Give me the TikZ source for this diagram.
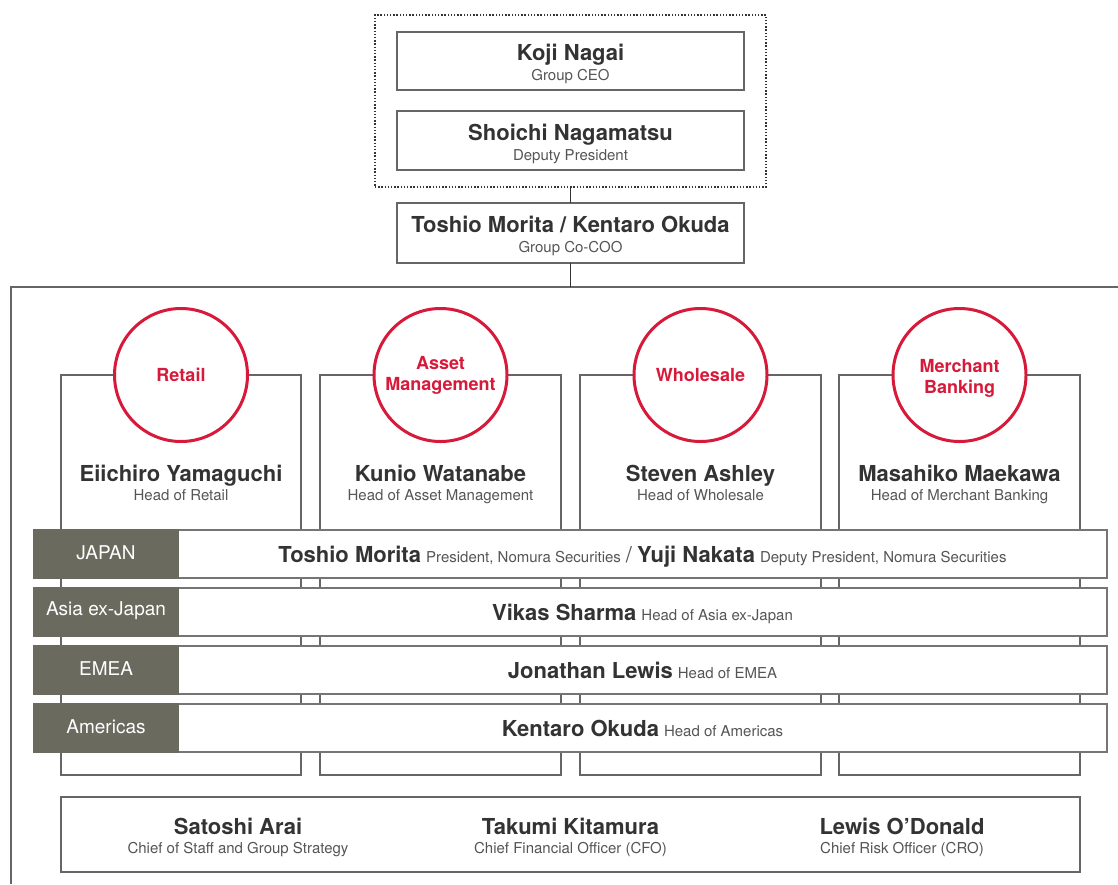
\documentclass[tikz,border=0pt]{standalone}
\usepackage{fontspec}
\setmainfont{TeX Gyre Heros}
\definecolor{nred}{HTML}{D7193A}
\definecolor{ngray}{HTML}{6B6A5E}
\definecolor{nline}{HTML}{666666}
\definecolor{ntext}{HTML}{333333}
\definecolor{nsub}{HTML}{555555}
\newcommand\nmf{\fontsize{22}{26}\selectfont\bfseries\color{ntext}}
\newcommand\ttf{\fontsize{15}{18}\selectfont\mdseries\color{nsub}}
\newcommand\gap{\hspace{5pt}}
\newcommand\pbox[6][]{\node[boxst,#1,minimum width={#5-#3},minimum height={#6-#4}] (#2) at ({(#3+#5)/2},{(#4+#6)/2}) {};}
\tikzset{
  boxst/.style={draw=nline,line width=1.2pt,fill=white,rectangle,inner sep=0pt,outer sep=0pt},
  regbar/.style={boxst,line width=1.5pt,draw=nline!90},
  reglab/.style={rectangle,fill=ngray,draw=ngray,inner sep=0pt,outer sep=0pt},
  circ/.style={circle,draw=nred,line width=3pt,fill=white,minimum size=133pt,inner sep=0pt,
    text=nred,align=center,font=\fontsize{18}{21}\selectfont\bfseries},
  nmtext/.style={inner sep=0pt,anchor=base,font=\nmf},
  tttext/.style={inner sep=0pt,anchor=base,font=\ttf},
  rltext/.style={inner sep=0pt,text=white,font=\fontsize{19}{22}\selectfont},
}
\begin{document}
\begin{tikzpicture}[x=1pt,y=-1pt]
\useasboundingbox (0,0) rectangle (1118,884);

% top group
\node[draw=ntext,line width=1.3pt,dash pattern=on 1.4pt off 1.8pt,rectangle,inner sep=0pt,
  minimum width=391,minimum height=172] (topgrp) at (570.5,101) {};
\pbox{ceo}{397}{32}{744}{90}
\node[nmtext] (ceoname) at (570.5,60) {Koji Nagai};
\node[tttext] (ceotitle) at (570.5,80) {Group CEO};
\pbox{dep}{397}{111}{744}{170}
\node[nmtext] (depname) at (570.5,140) {Shoichi Nagamatsu};
\node[tttext] (deptitle) at (570.5,160) {Deputy President};
\pbox{coo}{397}{203}{744}{263}
\node[nmtext] (cooname) at (570.5,232) {Toshio Morita / Kentaro Okuda};
\node[tttext] (cootitle) at (570.5,252) {Group Co-COO};

% frame
\coordinate (frametop) at (570.5,287);
\coordinate (frameleft) at (11,287);
\coordinate (frameright) at (1118,287);
\coordinate (framebottom) at (11,884);
\draw[nline,line width=1.4pt] (framebottom) -- (frameleft) -- (frameright);
\draw[ntext,line width=1.1pt] (topgrp.south) -- (coo.north);
\draw[ntext,line width=1.1pt] (coo.south) -- (frametop);

% division boxes
\pbox{dret}{61}{375}{301}{775}
\pbox{dam}{320}{375}{561}{775}
\pbox{dwh}{580}{375}{821}{775}
\pbox{dmb}{839}{375}{1080}{775}

\node[circ] (cret) at (181,375) {Retail};
\node[circ] (cam) at (440.5,375) {Asset\\Management};
\node[circ] (cwh) at (700.5,375) {Wholesale};
\node[circ] (cmb) at (959.5,375) {};
\node[inner sep=0pt,text=nred,align=center,font=\fontsize{18}{21}\selectfont\bfseries] (cmbtext) at (959.5,378) {Merchant\\Banking};

\node[nmtext] (nret) at (181,481) {Eiichiro Yamaguchi};
\node[tttext] (tret) at (181,500) {Head of Retail};
\node[nmtext] (nam) at (440.5,481) {Kunio Watanabe};
\node[tttext] (tam) at (440.5,500) {Head of Asset Management};
\node[nmtext] (nwh) at (700.5,481) {Steven Ashley};
\node[tttext] (twh) at (700.5,500) {Head of Wholesale};
\node[nmtext] (nmb) at (959.5,481) {Masahiko Maekawa};
\node[tttext] (tmb) at (959.5,500) {Head of Merchant Banking};

% regions
\pbox[regbar]{bjp}{178}{530}{1107}{578}
\pbox[reglab]{ljp}{34}{530}{178}{578}
\node[rltext] (rjp) at (106,553) {JAPAN};
\node[inner sep=0pt,anchor=base] (hjp) at (642.5,562) {{\nmf Toshio Morita}\gap{\ttf President, Nomura Securities}\gap{\ttf\fontsize{22}{26}\selectfont /}\gap{\nmf Yuji Nakata}\gap{\ttf Deputy President, Nomura Securities}};

\pbox[regbar]{bax}{178}{588}{1107}{636}
\pbox[reglab]{lax}{34}{588}{178}{636}
\node[rltext] (rax) at (106,611) {Asia ex-Japan};
\node[inner sep=0pt,anchor=base] (hax) at (642.5,620) {{\nmf Vikas Sharma}\gap{\ttf Head of Asia ex-Japan}};

\pbox[regbar]{bem}{178}{646}{1107}{694}
\pbox[reglab]{lem}{34}{646}{178}{694}
\node[rltext] (rem) at (106,669) {EMEA};
\node[inner sep=0pt,anchor=base] (hem) at (642.5,678) {{\nmf Jonathan Lewis}\gap{\ttf Head of EMEA}};

\pbox[regbar]{bam}{178}{704}{1107}{752}
\pbox[reglab]{lam}{34}{704}{178}{752}
\node[rltext] (ram) at (106,727) {Americas};
\node[inner sep=0pt,anchor=base] (ham) at (642.5,736) {{\nmf Kentaro Okuda}\gap{\ttf Head of Americas}};

% bottom box
\pbox{staff}{61}{797}{1080}{872}
\node[nmtext] (n1) at (238,834) {Satoshi Arai};
\node[tttext] (t1) at (238,853) {Chief of Staff and Group Strategy};
\node[nmtext] (n2) at (570.5,834) {Takumi Kitamura};
\node[tttext] (t2) at (570.5,853) {Chief Financial Officer (CFO)};
\node[nmtext] (n3) at (902,834) {Lewis O’Donald};
\node[tttext] (t3) at (902,853) {Chief Risk Officer (CRO)};
\end{tikzpicture}
\end{document}
